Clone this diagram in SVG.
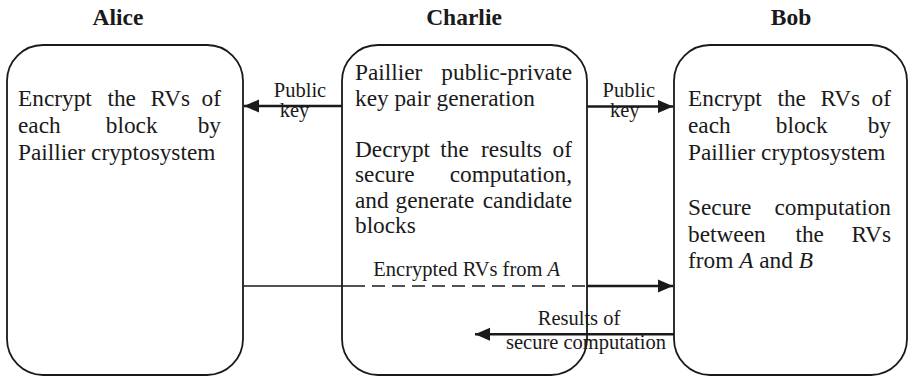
<svg xmlns="http://www.w3.org/2000/svg" width="912" height="377" viewBox="0 0 912 377">
<defs>
<style>
.box{fill:#fff;stroke:#1a1a1a;stroke-width:1.8}
.t{font-family:"Liberation Serif","Times New Roman",serif;font-size:23.3px;fill:#1a1a1a}
.h{font-family:"Liberation Serif","Times New Roman",serif;font-size:23.5px;font-weight:bold;fill:#1a1a1a}
.l{font-family:"Liberation Serif","Times New Roman",serif;font-size:20.5px;fill:#1a1a1a}
.m{text-anchor:middle}
.e{text-anchor:end}
.c{fill:none;stroke:#1a1a1a}
</style>
<marker id="ah" markerUnits="userSpaceOnUse" markerWidth="16" markerHeight="14" refX="15" refY="7" orient="auto">
<path d="M0,0.5 L15,7 L0,13.5 Z" fill="#1a1a1a"/>
</marker>
</defs>
<rect width="912" height="377" fill="#fff"/>

<g id="alice">
<text class="h m" x="118" y="25">Alice</text>
<rect class="box" x="7" y="45" width="236" height="330" rx="36" ry="36"/>
<text class="t" x="18" y="106">Encrypt</text>
<text class="t m" x="121.7" y="106">the</text>
<text class="t m" x="170.3" y="106">RVs</text>
<text class="t e" x="221" y="106">of</text>
<text class="t" x="18" y="133">each</text>
<text class="t m" x="131.7" y="133">block</text>
<text class="t e" x="221" y="133">by</text>
<text class="t" x="18" y="160">Paillier cryptosystem</text>
</g>

<g id="charlie">
<text class="h m" x="464" y="25">Charlie</text>
<rect class="box" x="342" y="45" width="245" height="330" rx="36" ry="36"/>
<text class="t" x="355" y="80">Paillier</text>
<text class="t e" x="572" y="80">public-private</text>
<text class="t" x="355" y="105.5">key pair generation</text>
<text class="t" x="355" y="156.5">Decrypt</text>
<text class="t m" x="454.5" y="156.5">the</text>
<text class="t m" x="511.5" y="156.5">results</text>
<text class="t e" x="572" y="156.5">of</text>
<text class="t" x="355" y="182">secure</text>
<text class="t e" x="572" y="182">computation,</text>
<text class="t" x="355" y="207.5">and</text>
<text class="t m" x="435" y="207.5">generate</text>
<text class="t e" x="572" y="207.5">candidate</text>
<text class="t" x="355" y="233">blocks</text>
</g>

<g id="bob">
<text class="h m" x="791" y="25">Bob</text>
<rect class="box" x="674" y="45" width="233" height="330" rx="36" ry="36"/>
<text class="t" x="688" y="106">Encrypt</text>
<text class="t m" x="791.7" y="106">the</text>
<text class="t m" x="840.3" y="106">RVs</text>
<text class="t e" x="891" y="106">of</text>
<text class="t" x="688" y="133">each</text>
<text class="t m" x="801.7" y="133">block</text>
<text class="t e" x="891" y="133">by</text>
<text class="t" x="688" y="159.5">Paillier cryptosystem</text>
<text class="t" x="688" y="215">Secure</text>
<text class="t e" x="891" y="215">computation</text>
<text class="t" x="688" y="241.5">between</text>
<text class="t m" x="809.7" y="241.5">the</text>
<text class="t e" x="891" y="241.5">RVs</text>
<text class="t" x="688" y="268">from <tspan font-style="italic">A</tspan> and <tspan font-style="italic">B</tspan></text>
</g>

<g id="connectors">
<line class="c" x1="342" y1="106" x2="244" y2="106" stroke-width="2.6" marker-end="url(#ah)"/>
<text class="l m" x="300" y="96.5">Public</text>
<text class="l m" x="294.5" y="117">key</text>

<line class="c" x1="587" y1="106.5" x2="673" y2="106.5" stroke-width="2.6" marker-end="url(#ah)"/>
<text class="l m" x="628.8" y="97">Public</text>
<text class="l m" x="624.7" y="117">key</text>

<line class="c" x1="243" y1="286" x2="352" y2="286" stroke-width="1.4"/>
<line class="c" x1="352" y1="286" x2="587" y2="286" stroke-width="1.5" stroke-dasharray="13 7"/>
<line class="c" x1="587" y1="286" x2="673" y2="286" stroke-width="2.6" marker-end="url(#ah)"/>
<text class="l m" x="466.7" y="276">Encrypted RVs from <tspan font-style="italic">A</tspan></text>

<line class="c" x1="674" y1="334.3" x2="475" y2="334.3" stroke-width="2.6" marker-end="url(#ah)"/>
<text class="l m" x="579" y="325">Results of</text>
<text class="l m" x="586" y="349.3">secure computation</text>
</g>
</svg>
